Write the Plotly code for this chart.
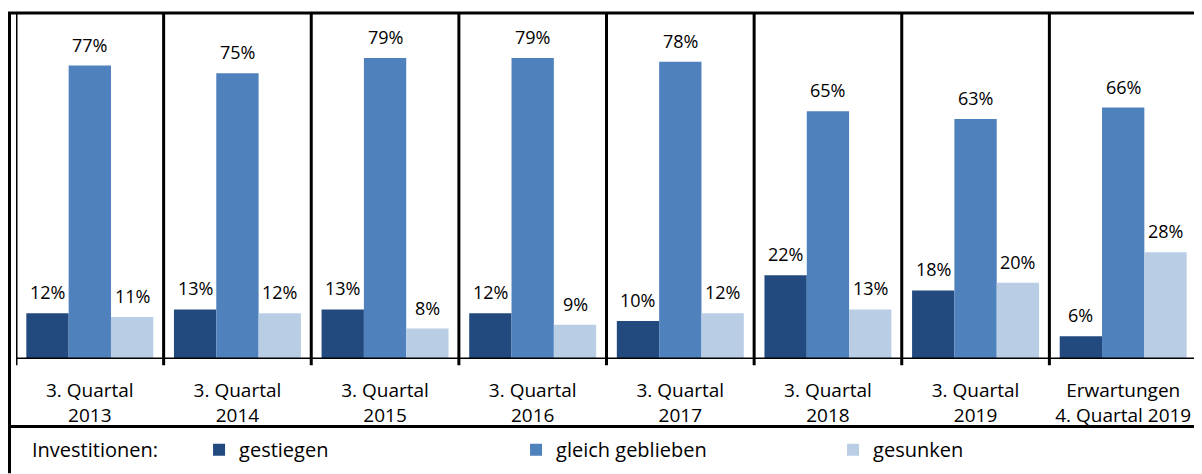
import plotly.graph_objects as go

categories = ["3. Quartal<br>2013", "3. Quartal<br>2014", "3. Quartal<br>2015", "3. Quartal<br>2016",
              "3. Quartal<br>2017", "3. Quartal<br>2018", "3. Quartal<br>2019", "Erwartungen<br>4. Quartal 2019"]
series_names = ["gestiegen", "gleich geblieben", "gesunken"]
gestiegen = [12, 13, 13, 12, 10, 22, 18, 6]
gleich_geblieben = [77, 75, 79, 79, 78, 65, 63, 66]
gesunken = [11, 12, 8, 9, 12, 13, 20, 28]
colors = ["#224a7f", "#4f81bd", "#b9cde5"]
legend_title = "Investitionen:"

FONT = "Open Sans"
FS = 18
x = list(range(len(categories)))
bargap = 0.14
bw = (1 - bargap) / 3

fig = go.Figure()
for k, (name, vals) in enumerate(zip(series_names, [gestiegen, gleich_geblieben, gesunken])):
    fig.add_trace(go.Bar(x=x, y=vals, name=name, marker=dict(color=colors[k], line=dict(width=0)),
                         hoverinfo="skip"))
    for i, v in enumerate(vals):
        fig.add_annotation(x=i + (k - 1) * bw, y=v, text=f"{v}%", showarrow=False,
                           yanchor="bottom", yshift=7, font=dict(family=FONT, size=FS, color="black"))

n = len(categories)
line = dict(color="black", width=3)
# separators + axis lines (group boundaries)
for b in range(n + 1):
    fig.add_shape(type="line", xref="x", yref="paper", x0=b - 0.5, x1=b - 0.5, y0=-0.018, y1=1, line=line)
# baseline
fig.add_shape(type="line", xref="paper", yref="y", x0=0, x1=1, y0=0, y1=0, line=line)
# top frame line
fig.add_shape(type="line", xref="paper", yref="paper", x0=-0.0068, x1=1.01, y0=1, y1=1, line=line)
# outer left frame line
fig.add_shape(type="line", xref="paper", yref="paper", x0=-0.0055, x1=-0.0055, y0=1, y1=-0.33, line=line)
# line separating legend row
fig.add_shape(type="line", xref="paper", yref="paper", x0=-0.0055, x1=1.01, y0=-0.195, y1=-0.195, line=line)

fig.add_annotation(xref="paper", yref="paper", x=0.0119, y=-0.262, text=legend_title, showarrow=False,
                   xanchor="left", yanchor="middle", font=dict(family=FONT, size=20, color="black"))

fig.update_layout(
    width=1194, height=466,
    margin=dict(l=8, r=5, t=5, b=112),
    paper_bgcolor="white", plot_bgcolor="white",
    barmode="group", bargap=bargap, bargroupgap=0,
    font=dict(family=FONT, size=FS, color="black"),
    showlegend=True,
    legend=dict(orientation="h", x=0.155, xanchor="left", y=-0.262, yanchor="middle",
                entrywidth=272, entrywidthmode="pixels", font=dict(family=FONT, size=20, color="black"),
                itemclick=False, itemdoubleclick=False),
    xaxis=dict(tickmode="array", tickvals=x, ticktext=categories, range=[-0.5, n - 0.5],
               showgrid=False, zeroline=False, showline=False, ticks="", ticklabelstandoff=18,
               tickfont=dict(family=FONT, size=19, color="black"), fixedrange=True),
    yaxis=dict(range=[0, 90.8], visible=False, showgrid=False, zeroline=False, fixedrange=True),
)

fig.write_html("out.html")
